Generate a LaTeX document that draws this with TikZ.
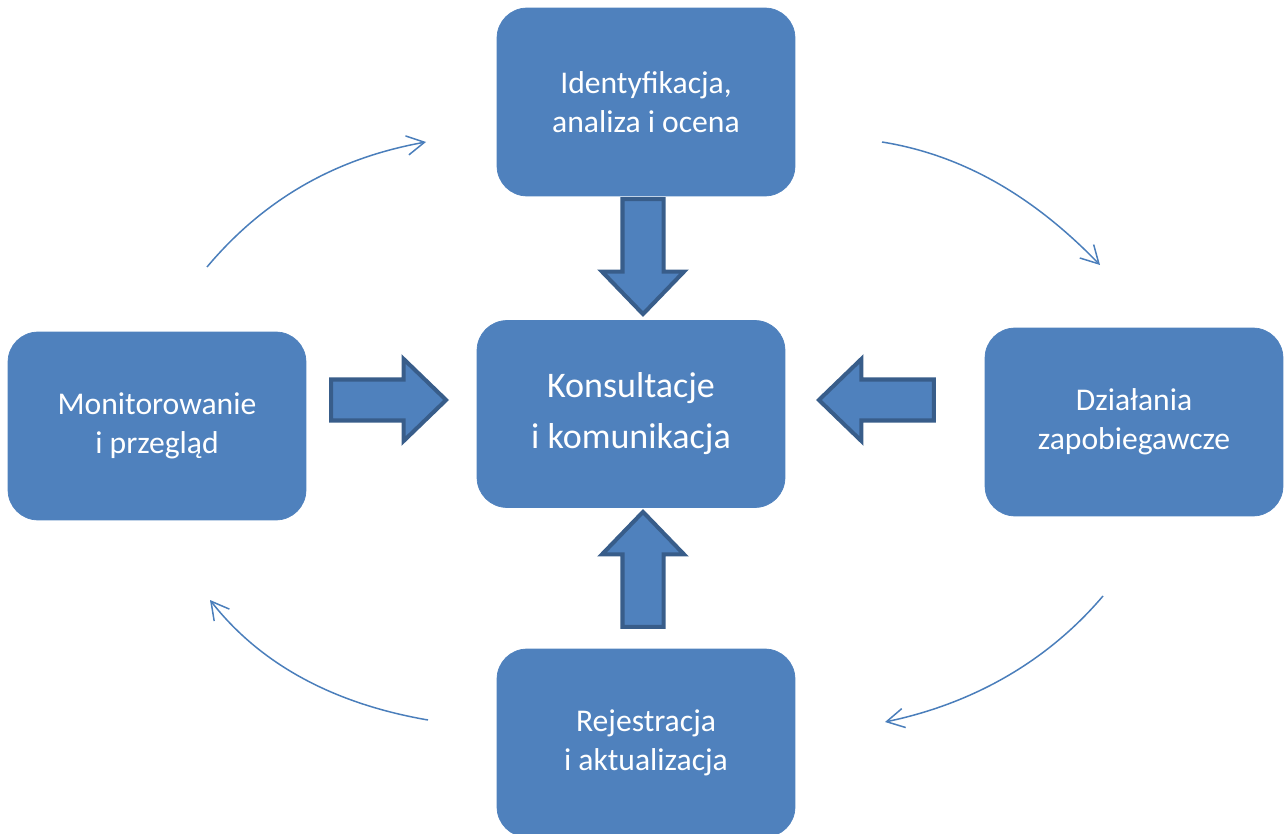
\documentclass[tikz,border=0pt]{standalone}
\usepackage{fontspec}
\setmainfont{Carlito}
\usetikzlibrary{shapes.arrows,arrows.meta}
\definecolor{boxblue}{HTML}{4F81BD}
\definecolor{pushedge}{HTML}{385D8A}
\definecolor{loopblue}{HTML}{4A7EBB}
\begin{document}
\begin{tikzpicture}[x=0.02cm,y=-0.02cm,
  stage/.style={draw=boxblue,fill=boxblue,rounded corners=0.6cm,
    minimum width=5.96cm,minimum height=3.76cm,align=center,text=white,
    font=\fontsize{18}{22.2}\selectfont},
  hub/.style={stage,minimum width=6.16cm,minimum height=3.74cm,
    font=\fontsize{20.5}{29}\selectfont},
  push/.style={single arrow,draw=pushedge,line width=2.3pt,fill=boxblue,
    inner sep=0pt,inner ysep=0.37cm,minimum height=2.3cm,anchor=tip,
    single arrow head extend=0.41cm,single arrow tip angle=88},
  loop/.style={draw=loopblue,line width=0.85pt,
    -{Straight Barb[length=10pt,width=11pt]}}]
  \useasboundingbox (0,0) rectangle (1288,834);
  \clip (0,0) rectangle (1288,834);
  % boxes
  \node[stage] (ident) at (646,102) {Identyfikacja,\\analiza i ocena};
  \node[hub] (konsult) at (631,414) {Konsultacje\\i komunikacja};
  \node[stage] (dzial) at (1134,422) {Działania\\zapobiegawcze};
  \node[stage] (rejestr) at (646,743) {Rejestracja\\i aktualizacja};
  \node[stage] (monitor) at (157,426) {Monitorowanie\\i przegląd};
  % block arrows into the hub
  \node[push,rotate=-90] (pdown) at (643,317) {};
  \node[push,rotate=90] (pup) at (643,509) {};
  \node[push] (pright) at (449,400) {};
  \node[push,rotate=180] (pleft) at (816,400) {};
  % cycle
  \coordinate (c1a) at (207,267); \coordinate (c1b) at (426,142);
  \coordinate (c2a) at (882,142); \coordinate (c2b) at (1100,265);
  \coordinate (c3a) at (1103,596); \coordinate (c3b) at (885,722);
  \coordinate (c4a) at (428,720); \coordinate (c4b) at (210,600);
  \draw[loop] (c1a) .. controls (265,198) and (337,158) .. (c1b);
  \draw[loop] (c2a) .. controls (969,156) and (1039,202) .. (c2b);
  \draw[loop] (c3a) .. controls (1046,663) and (971,704) .. (c3b);
  \draw[loop] (c4a) .. controls (341,705) and (264,669) .. (c4b);
\end{tikzpicture}
\end{document}
